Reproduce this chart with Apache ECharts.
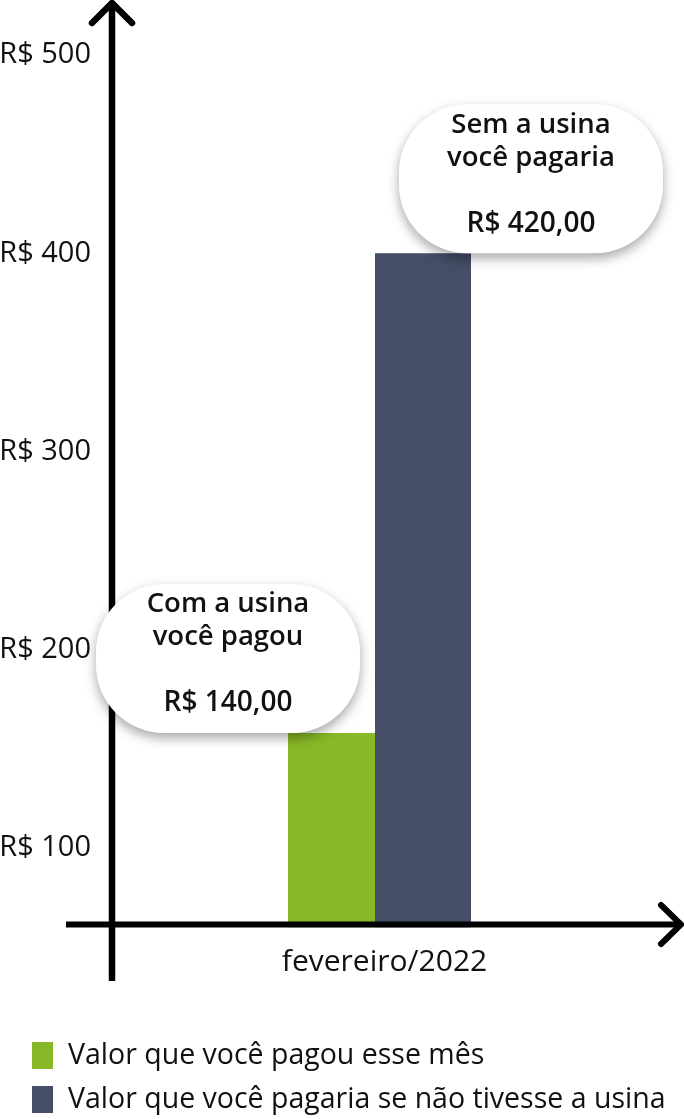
<!DOCTYPE html>
<html>
<head>
<meta charset="utf-8">
<script src="https://cdn.jsdelivr.net/npm/echarts@6/dist/echarts.min.js"></script>
<style>
  html, body { margin: 0; padding: 0; background: #ffffff; }
  #chart { width: 684px; height: 1119px; }
</style>
</head>
<body>
<div id="chart"></div>
<script>
// ---- data ----
const categories = ['fevereiro/2022'];
const seriesNames = ['Valor que você pagou esse mês', 'Valor que você pagaria se não tivesse a usina'];
const paidValues = [158];
const wouldPayValues = [400];
const calloutTitles = [['Com a usina', 'você pagou'], ['Sem a usina', 'você pagaria']];
const calloutAmounts = ['R$ 140,00', 'R$ 420,00'];
const yTickValues = [100, 200, 300, 400, 500];
const yTickPrefix = 'R$ ';

// ---- style ----
const FONT = '"Open Sans", "Noto Sans", sans-serif';
const GREEN = '#88B727';
const DARK = '#444E66';
const TEXT = '#111111';

function calloutLabel(idx, offsetX) {
  return {
    show: true,
    position: 'top',
    distance: 0,
    offset: [offsetX, 0],
    formatter: () => '{t|' + calloutTitles[idx][0] + '}\n{t|' + calloutTitles[idx][1] + '}\n\n{v|' + calloutAmounts[idx] + '}',
    width: 264,
    align: 'center',
    lineHeight: 33,
    padding: [4, 0, 13, 0],
    backgroundColor: '#ffffff',
    borderRadius: 68,
    shadowColor: 'rgba(0,0,0,0.35)',
    shadowBlur: 12,
    shadowOffsetX: 0,
    shadowOffsetY: 5,
    rich: {
      t: { fontFamily: FONT, fontSize: 27.5, fontWeight: 600, color: TEXT, lineHeight: 33, align: 'center' },
      v: { fontFamily: FONT, fontSize: 28, fontWeight: 600, color: TEXT, lineHeight: 33, align: 'center' }
    }
  };
}

function legendFor(i, top) {
  return {
    orient: 'vertical',
    left: 27,
    top: top,
    itemWidth: 21,
    itemHeight: 27,
    icon: 'rect',
    selectedMode: false,
    textStyle: { fontFamily: FONT, fontSize: 28.5, color: TEXT, padding: [0, 0, 0, 10] },
    data: [seriesNames[i]]
  };
}

const chart = echarts.init(document.getElementById('chart'), null, { renderer: 'canvas' });

const option = {
  backgroundColor: '#ffffff',
  animation: false,
  textStyle: { fontFamily: FONT },
  grid: { left: 77, right: 2, top: 15.35, bottom: 191.7, containLabel: false, outerBoundsMode: 'none' },
  legend: [legendFor(0, 1036), legendFor(1, 1080)],
  xAxis: {
    type: 'category',
    data: categories,
    axisLine: { show: false },
    axisTick: { show: false },
    splitLine: { show: false },
    axisLabel: { fontFamily: FONT, fontSize: 30, color: TEXT, margin: 20, padding: [0, 0, 0, 10] }
  },
  yAxis: {
    type: 'value',
    min: 60,
    max: 520,
    interval: 20,
    offset: -35,
    axisLine: { show: false },
    axisTick: { show: false },
    splitLine: { show: false },
    axisLabel: {
      fontFamily: FONT, fontSize: 29, color: TEXT, margin: 21,
      showMinLabel: true, showMaxLabel: true,
      formatter: v => (yTickValues.indexOf(v) >= 0 ? yTickPrefix + v : '')
    }
  },
  series: [
    {
      name: seriesNames[0],
      type: 'bar',
      data: paidValues,
      barWidth: 87,
      barGap: '0%',
      itemStyle: { color: GREEN },
      label: calloutLabel(0, -103.5)
    },
    {
      name: seriesNames[1],
      type: 'bar',
      data: wouldPayValues,
      barWidth: 96,
      barGap: '0%',
      itemStyle: { color: DARK },
      label: calloutLabel(1, 108)
    }
  ],
  graphic: [
    // vertical axis line (below callouts)
    { type: 'line', z: 1, shape: { x1: 112, y1: 981, x2: 112, y2: 5 }, style: { stroke: '#000', lineWidth: 6.5 } },
    { type: 'polyline', z: 1, shape: { points: [[92, 23], [112, 3], [132, 23]] }, style: { stroke: '#000', fill: null, lineWidth: 6.5, lineCap: 'round', lineJoin: 'miter' } },
    // horizontal axis line (above bars)
    { type: 'line', z: 10, shape: { x1: 66, y1: 924.5, x2: 680, y2: 924.5 }, style: { stroke: '#000', lineWidth: 6 } },
    { type: 'polyline', z: 10, shape: { points: [[661, 905], [681, 924.5], [661, 944]] }, style: { stroke: '#000', fill: null, lineWidth: 6, lineCap: 'round', lineJoin: 'miter' } }
  ]
};

chart.setOption(option);
</script>
</body>
</html>
